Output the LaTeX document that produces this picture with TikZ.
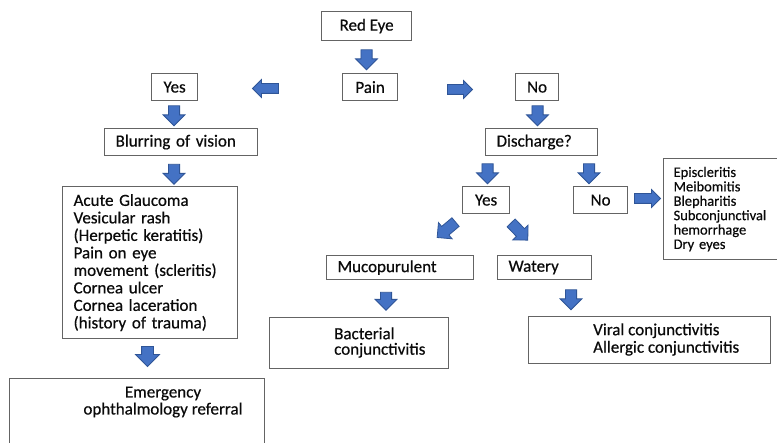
\documentclass[tikz,border=0pt]{standalone}
\usepackage{fontspec}
\setmainfont{Carlito}[FakeBold=0.5]
\usetikzlibrary{shapes.arrows}
\definecolor{arrowblue}{RGB}{68,114,196}
\definecolor{arrowedge}{RGB}{47,85,151}
\definecolor{boxline}{RGB}{100,100,100}
\definecolor{txt}{RGB}{10,10,10}
\begin{document}
\begin{tikzpicture}[x=1pt,y=-1pt,
  box/.style={draw=boxline, line width=1.2pt, anchor=north west, inner sep=0pt, text=txt, font=\fontsize{17}{17.5}\selectfont},
  cbox/.style={box, align=center},
  lbox/.style={box, align=left, inner xsep=11pt},
  ttext/.style={inner sep=0pt, text=txt},
  barrow/.style={single arrow, draw=arrowedge, fill=arrowblue, line width=0.8pt, inner xsep=0pt, inner ysep=5.2pt, single arrow head extend=5.3pt, minimum height=20pt, single arrow head indent=0pt},
  sarrow/.style={barrow, inner ysep=4.5pt, single arrow head extend=4pt, minimum height=26pt}
]
\fill[white] (0,0) rectangle (777,443);
\useasboundingbox (0,0) rectangle (777,443);

% boxes
\node[cbox, minimum width=90pt, minimum height=29pt] (redeye) at (321,11) {Red Eye};
\node[cbox, minimum width=55pt, minimum height=27pt] (pain) at (342,73) {Pain};
\node[cbox, minimum width=46pt, minimum height=27pt] (yes1) at (151,73) {Yes};
\node[cbox, minimum width=43pt, minimum height=27pt] (no1) at (515,73) {No};
\node[lbox, text width=131pt, minimum height=27pt] (blur) at (104,128) {Blurring of vision};
\node[lbox, text width=90pt, minimum height=27pt] (disch) at (485,128) {Discharge?};
\node[cbox, minimum width=47pt, minimum height=27pt] (yes2) at (462,186) {Yes};
\node[cbox, minimum width=54pt, minimum height=27pt] (no2) at (573,186) {No};
\node[lbox, text width=153pt, minimum height=152pt] (acute) at (62,186)
  {Acute Glaucoma\\Vesicular rash\\(Herpetic keratitis)\\Pain on eye\\movement (scleritis)\\Cornea ulcer\\Cornea laceration\\(history of trauma)};
\node[lbox, inner xsep=10pt, text width=117pt, minimum height=101pt, font=\fontsize{14.5}{14.4}\selectfont] (epi) at (663,158)
  {Episcleritis\\Meibomitis\\Blepharitis\\Subconjunctival\\hemorrhage\\Dry eyes};
\node[lbox, text width=125pt, minimum height=24pt] (muco) at (326,255) {Mucopurulent};
\node[lbox, text width=72pt, minimum height=24pt] (watery) at (497,255) {Watery};
\node[box, minimum width=179pt, minimum height=51pt] (bact) at (269,317) {};
\node[ttext, anchor=west, align=left, font=\fontsize{17}{15.5}\selectfont] (bactT) at (334,342.5) {Bacterial\\conjunctivitis};
\node[box, minimum width=242pt, minimum height=47pt] (viral) at (528,316) {};
\node[ttext, anchor=west, align=left, font=\fontsize{17}{17.5}\selectfont] (viralT) at (593,339.5) {Viral conjunctivitis\\Allergic conjunctivitis};
\node[box, minimum width=255pt, minimum height=90pt] (emerg) at (9,378) {};
\node[ttext, align=center, font=\fontsize{17}{17}\selectfont] (emergT) at (163,402) {Emergency\\ophthalmology referral};

% block arrows
\node[barrow, rotate=-90] (a1) at (366.5,57) {};
\node[sarrow, rotate=180] (a2) at (268,88.5) {};
\node[sarrow, minimum height=25pt] (a3) at (457.5,89.5) {};
\node[barrow, rotate=-90] (a4) at (174,113) {};
\node[barrow, rotate=-90] (a5) at (174,171.5) {};
\node[barrow, rotate=-90, inner ysep=5.5pt, single arrow head extend=6pt] (a6) at (147.5,353.5) {};
\node[barrow, rotate=-90] (a7) at (537.5,113) {};
\node[barrow, rotate=-90] (a8) at (487.5,171) {};
\node[barrow, rotate=-90] (a9) at (589,171) {};
\node[sarrow] (a10) at (645,198.5) {};
\node[barrow, rotate=-140, minimum height=24pt, single arrow head extend=5pt] (a11) at (448.5,228) {};
\node[barrow, rotate=-46, minimum height=24pt, single arrow head extend=5pt] (a12) at (517.5,229.5) {};
\node[barrow, rotate=-90, minimum height=18pt] (a13) at (386,298.5) {};
\node[barrow, rotate=-90] (a14) at (571,297) {};
\end{tikzpicture}
\end{document}
